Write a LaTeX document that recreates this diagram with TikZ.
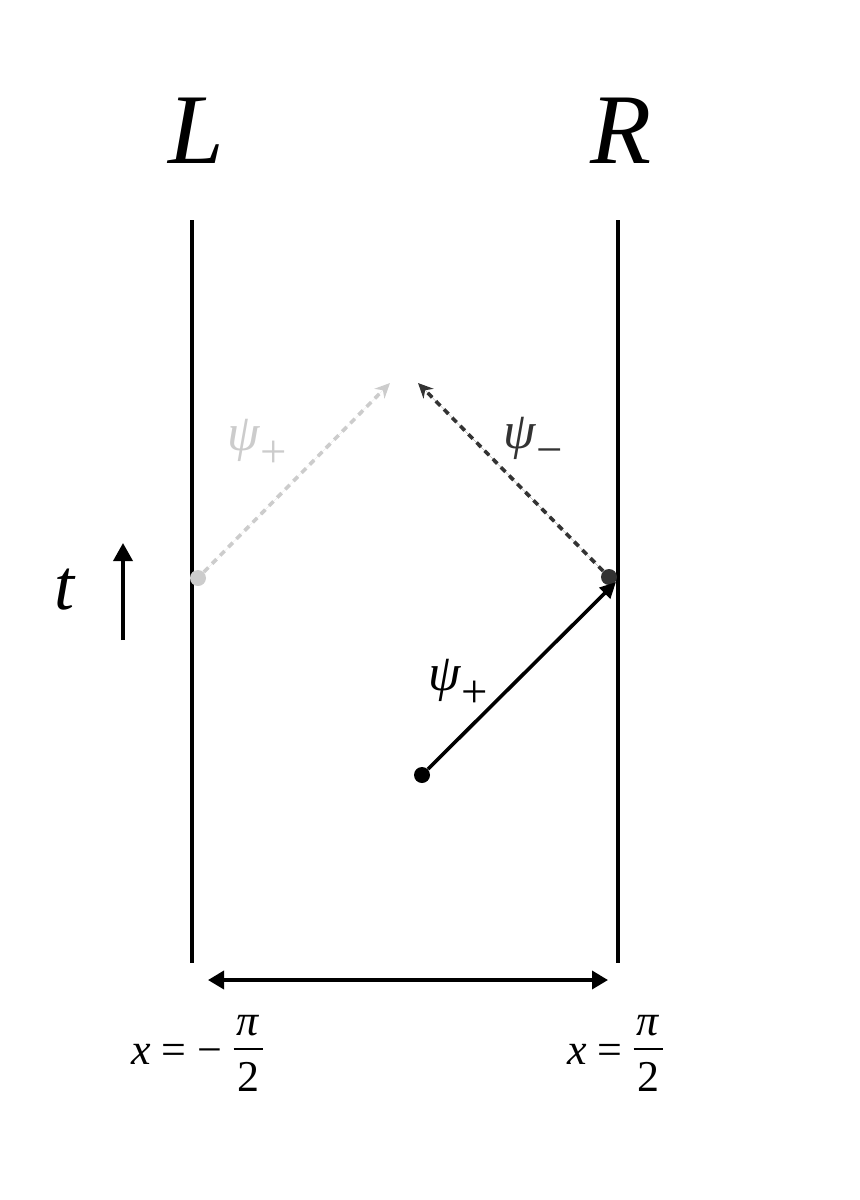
\documentclass[tikz,border=0pt]{standalone}
\usepackage{fontspec}
\setmainfont{Liberation Serif}
\usetikzlibrary{arrows.meta}
\definecolor{lightg}{HTML}{CCCCCC}
\definecolor{darkg}{HTML}{333333}
\newcommand{\mysub}[1]{\raisebox{-0.33em}{\scalebox{0.9}{#1}}}
\newcommand{\myfrac}[2]{$\vcenter{\hbox{\setlength{\arrayrulewidth}{1pt}\begin{tabular}{@{\kern1.5pt}c@{\kern1.5pt}}#1\\[-1pt]\hline\rule{0pt}{21pt}#2\end{tabular}}}$}
\begin{document}
\begin{tikzpicture}[x=0.5pt,y=-0.5pt,
  wall/.style={line width=2pt},
  dot/.style={circle,fill,inner sep=0pt,minimum size=8pt},
  solidarrow/.style={line width=1.8pt,-{Triangle[length=8pt,width=7.5pt]}},
  dasharrow/.style={line width=1.8pt,dash pattern=on 3.2pt off 2.6pt,-{Stealth[length=7.5pt,width=7pt]}},
  bigtip/.style={line width=1.8pt,{Triangle[length=8pt,width=9pt]}-{Triangle[length=8pt,width=9pt]}},
  biglabel/.style={font=\fontsize{50}{52}\selectfont\itshape,inner sep=0pt},
  psilabel/.style={font=\fontsize{26}{28}\selectfont,inner sep=0pt},
  xlabel/.style={font=\fontsize{22}{24}\selectfont,inner sep=0pt}]
\useasboundingbox (0,0) rectangle (860,1200);
% walls
\coordinate (Ltop) at (192,220); \coordinate (Lbot) at (192,963);
\coordinate (Rtop) at (618,220); \coordinate (Rbot) at (618,963);
\draw[wall] (Ltop) -- (Lbot);
\draw[wall] (Rtop) -- (Rbot);
% labels L R
\node[biglabel] (Llab) at (196,131) {L};
\node[biglabel] (Rlab) at (621,131) {R};
% time
\node[font=\fontsize{36}{38}\selectfont\itshape,inner sep=0pt] (tlab) at (65,590) {t};
\coordinate (t0) at (123,640); \coordinate (t1) at (123,543);
\draw[line width=1.8pt,-{Triangle[length=9pt,width=9.5pt]}] (t0) -- (t1);
% dots
\node[dot,fill=lightg] (pg) at (198,578) {};
\node[dot,fill=darkg] (pd) at (609,577) {};
\node[dot,fill=black] (p0) at (422,775) {};
\coordinate (eg) at (390,383);
\coordinate (ed) at (418,383);
\coordinate (hit) at (616,582);
% arrows
\draw[dasharrow,draw=lightg,fill=lightg] (pg) -- (eg);
\draw[dasharrow,draw=darkg,fill=darkg] (pd) -- (ed);
\draw[solidarrow] (p0) -- (hit);
% psi labels
\node[psilabel,text=lightg] (psig) at (257,443) {\textit{ψ}\mysub{+}};
\node[psilabel,text=darkg] (psid) at (533,441) {\textit{ψ}\mysub{−}};
\node[psilabel] (psib) at (458,683) {\textit{ψ}\mysub{+}};
% bottom
\coordinate (b0) at (208,980); \coordinate (b1) at (608,980);
\draw[bigtip] (b0) -- (b1);
\node[xlabel] (xl) at (197,1054) {\textit{x} = − \myfrac{\textit{π}}{2}};
\node[xlabel] (xr) at (615,1054) {\textit{x} = \myfrac{\textit{π}}{2}};
\end{tikzpicture}
\end{document}
